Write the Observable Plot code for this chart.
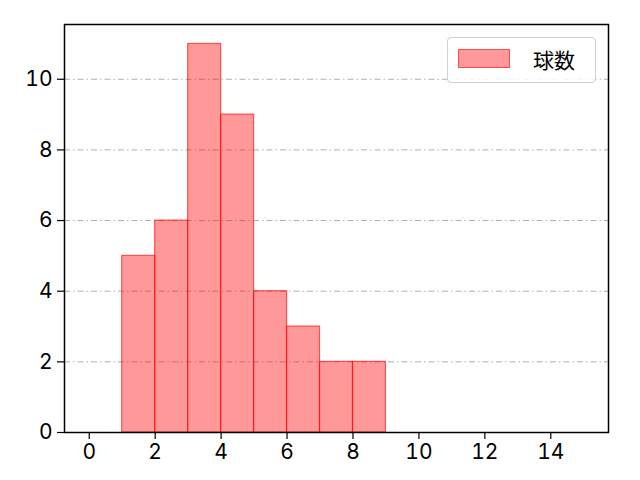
<!DOCTYPE html>
<html>
<head>
<meta charset="utf-8">
<script src="https://cdn.jsdelivr.net/npm/d3@7"></script>
<script src="https://cdn.jsdelivr.net/npm/@observablehq/plot@0.6"></script>
<style>
  html, body { margin: 0; padding: 0; background: #fff; }
  #chart { position: relative; width: 640px; height: 480px; }
  #chart svg text { font-family: Inter, "Noto Sans CJK JP", sans-serif; font-size: 21px; }
  .legend { position: absolute; left: 447px; top: 37px; width: 147px; height: 44px;
    border: 1px solid #d0d0d0; border-radius: 4px; background: rgba(255,255,255,0.85);
    font-family: "Noto Sans CJK JP", sans-serif; font-size: 21px; color: #000; }
  .legend .sw { position: absolute; left: 10px; top: 11px; width: 52px; height: 19px;
    background: rgba(255,0,0,0.4); border: 1px solid rgba(255,0,0,0.5); box-sizing: border-box; }
  .legend .lb { position: absolute; left: 85px; top: 6px; line-height: 30px; }
</style>
</head>
<body>
<div id="chart"></div>
<script>
const binStart = [1, 2, 3, 4, 5, 6, 7, 8];
const binEnd   = [2, 3, 4, 5, 6, 7, 8, 9];
const counts   = [5, 6, 11, 9, 4, 3, 2, 2];
const xTicks = [0, 2, 4, 6, 8, 10, 12, 14];
const yTicks = [0, 2, 4, 6, 8, 10];
const seriesName = "球数";

const bins = binStart.map((s, i) => ({x1: s, x2: binEnd[i], y: counts[i]}));

const chart = Plot.plot({
  width: 640,
  height: 480,
  marginLeft: 64,
  marginRight: 32,
  marginTop: 24,
  marginBottom: 48,
  style: {fontFamily: "Inter, 'Noto Sans CJK JP', sans-serif", fontSize: "21px", color: "#000", background: "#fff"},
  x: {domain: [-0.75, 15.75], label: null},
  y: {domain: [0, 11.55], label: null},
  marks: [
    Plot.ruleY(yTicks.filter(d => d > 0), {stroke: "#b0b0b0", strokeWidth: 1, strokeDasharray: "6,3,1.5,3"}),
    Plot.rectY(bins, {x1: "x1", x2: "x2", y: "y", fill: "red", fillOpacity: 0.4, stroke: "red", strokeOpacity: 0.6, strokeWidth: 1.2, inset: 0}),
    Plot.axisX({ticks: xTicks, tickSize: 7, tickPadding: 5, stroke: "#000", strokeWidth: 1.2, fontSize: 21, label: null}),
    Plot.axisY({ticks: yTicks, tickSize: 7, tickPadding: 5, stroke: "#000", strokeWidth: 1.2, fontSize: 21, label: null}),
    Plot.frame({stroke: "#000", strokeWidth: 1.5})
  ]
});
const host = document.getElementById("chart");
host.appendChild(chart);
const lg = document.createElement("div");
lg.className = "legend";
lg.innerHTML = `<div class="sw"></div><div class="lb">${seriesName}</div>`;
host.appendChild(lg);
</script>
</body>
</html>
